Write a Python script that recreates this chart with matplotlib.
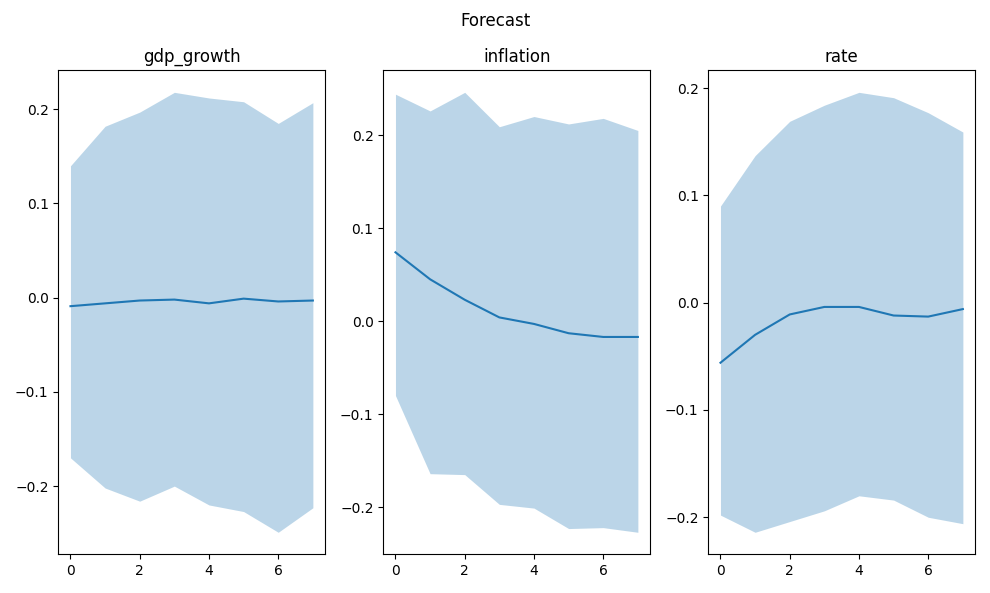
import matplotlib
matplotlib.use('Agg')
import matplotlib.pyplot as plt
import numpy as np

steps = np.arange(8)
names = ['gdp_growth', 'inflation', 'rate']

gdp_mean = [-0.009, -0.006, -0.003, -0.002, -0.006, -0.001, -0.004, -0.003]
gdp_upper = [0.140, 0.182, 0.197, 0.218, 0.212, 0.208, 0.185, 0.207]
gdp_lower = [-0.170, -0.202, -0.216, -0.200, -0.220, -0.227, -0.249, -0.223]

infl_mean = [0.074, 0.045, 0.023, 0.004, -0.003, -0.013, -0.017, -0.017]
infl_upper = [0.244, 0.226, 0.246, 0.209, 0.220, 0.212, 0.218, 0.205]
infl_lower = [-0.080, -0.164, -0.165, -0.197, -0.201, -0.223, -0.222, -0.227]

rate_mean = [-0.056, -0.030, -0.011, -0.004, -0.004, -0.012, -0.013, -0.006]
rate_upper = [0.090, 0.137, 0.169, 0.184, 0.196, 0.191, 0.177, 0.159]
rate_lower = [-0.198, -0.214, -0.204, -0.194, -0.180, -0.184, -0.200, -0.206]

means = [gdp_mean, infl_mean, rate_mean]
uppers = [gdp_upper, infl_upper, rate_upper]
lowers = [gdp_lower, infl_lower, rate_lower]


def main():
    fig, axes = plt.subplots(1, 3, figsize=(9.9, 5.93), dpi=100)
    for ax, name, m, lo, hi in zip(axes, names, means, lowers, uppers):
        ax.plot(steps, m, color='C0')
        ax.fill_between(steps, lo, hi, color='C0', alpha=0.3, linewidth=0)
        ax.set_title(name)
    fig.suptitle('Forecast')
    fig.tight_layout()
    fig.savefig('out.png')


if __name__ == "__main__":
    main()
